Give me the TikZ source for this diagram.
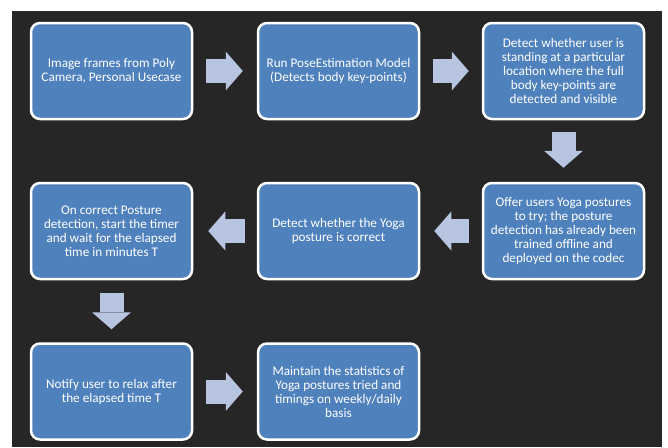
\documentclass[tikz,border=0pt]{standalone}
\usepackage{fontspec}
\setmainfont{Carlito}
\usetikzlibrary{arrows.meta}
\definecolor{bgdark}{HTML}{262626}
\definecolor{boxblue}{HTML}{4F81BD}
\definecolor{arrowblue}{HTML}{B7C5E0}
\tikzset{
  procbox/.style={draw=white,line width=2.5pt,fill=boxblue,rounded corners=9pt,minimum width=161pt,minimum height=96pt,align=center,text=white,font=\fontsize{13.2}{14}\selectfont},
  flowarrow/.style={draw=arrowblue,line width=24pt,-{Triangle[length=17pt,width=39pt,line width=0pt]}}
}
\begin{document}
\begin{tikzpicture}[x=1pt,y=-1pt]
          \useasboundingbox (0,0) rectangle (668,447);
          \fill[white] (0,0) rectangle (668,447);
          \fill[bgdark] (12,11) rectangle (662,447);
          \node[procbox] (frames) at (111.5,71) {Image frames from Poly\\Camera, Personal Usecase};
          \node[procbox] (pose) at (338.5,71) {Run PoseEstimation Model\\(Detects body key-points)};
          \node[procbox] (stand) at (563.5,71) {Detect whether user is\\standing at a particular\\location where the full\\body key-points are\\detected and visible};
          \node[procbox] (offer) at (563.5,231) {Offer users Yoga postures\\to try; the posture\\detection has already been\\trained offline and\\deployed on the codec};
          \node[procbox] (check) at (338.5,231) {Detect whether the Yoga\\posture is correct};
          \node[procbox] (timer) at (111.5,231) {On correct Posture\\detection, start the timer\\and wait for the elapsed\\time in minutes T};
          \node[procbox] (notify) at (111.5,391.5) {Notify user to relax after\\the elapsed time T};
          \node[procbox] (stats) at (338.5,391.5) {Maintain the statistics of\\Yoga postures tried and\\timings on weekly/daily\\basis};
          \draw[flowarrow,shorten <=13pt,shorten >=14pt] (frames) -- (pose);
          \draw[flowarrow,shorten <=13pt,shorten >=13pt] (pose) -- (stand);
          \draw[flowarrow,shorten <=12pt,shorten >=14pt] (stand) -- (offer);
          \draw[flowarrow,shorten <=13pt,shorten >=14pt] (offer) -- (check);
          \draw[flowarrow,shorten <=12pt,shorten >=15pt] (check) -- (timer);
          \draw[flowarrow,shorten <=13pt,shorten >=13pt] (timer) -- (notify);
          \draw[flowarrow,shorten <=13pt,shorten >=14pt] (notify) -- (stats);
        \end{tikzpicture}
\end{document}
